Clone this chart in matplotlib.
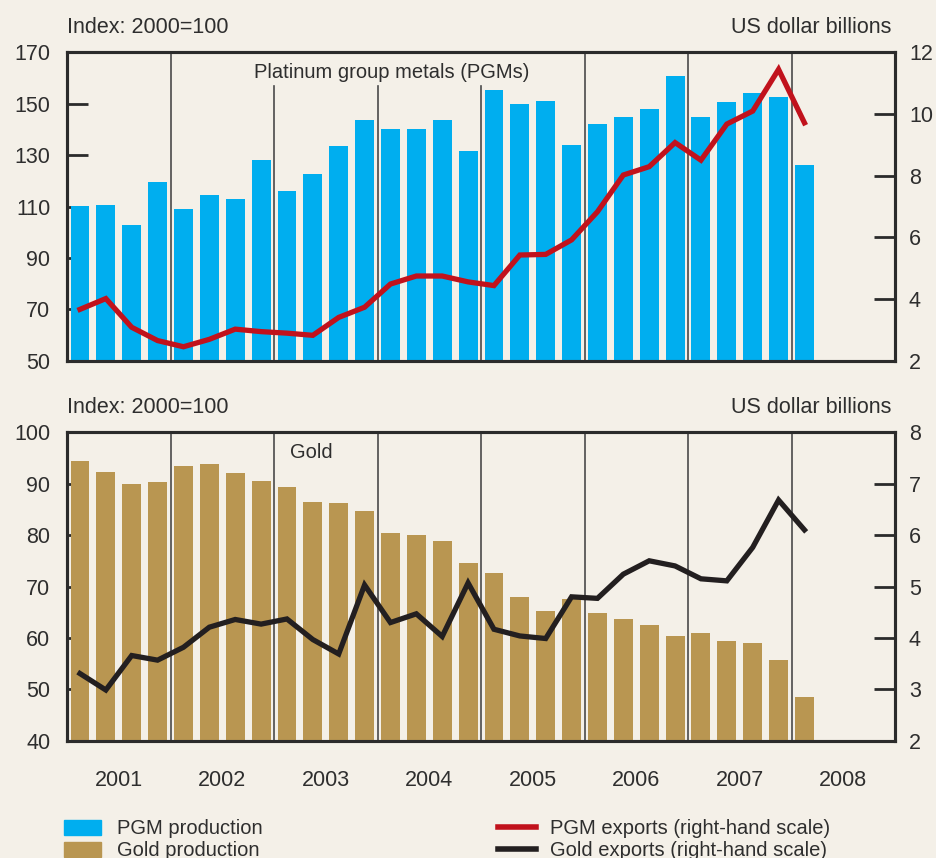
import numpy as np
import matplotlib
matplotlib.use("Agg")
import matplotlib.pyplot as plt
from matplotlib.patches import Patch
from matplotlib.lines import Line2D

plt.rcParams['font.family'] = ['Liberation Sans', 'DejaVu Sans']

# quarterly data, 2001Q1 .. 2008Q1
pgm_prod = [110.2, 110.6, 102.8, 119.5, 109.0, 114.5, 112.9, 128.1,
            116.0, 122.6, 133.5, 143.6, 140.1, 140.1, 143.6, 131.6,
            155.2, 149.8, 151.0, 133.9, 142.0, 144.8, 147.9, 160.7,
            144.8, 150.6, 154.1, 152.5, 126.1]
pgm_exports = [3.67, 4.02, 3.09, 2.66, 2.46, 2.70, 3.03, 2.95,
               2.90, 2.83, 3.41, 3.74, 4.49, 4.75, 4.75, 4.56,
               4.44, 5.43, 5.45, 5.92, 6.83, 8.02, 8.29, 9.07,
               8.50, 9.67, 10.09, 11.44, 9.71]
gold_prod = [94.4, 92.2, 89.9, 90.3, 93.4, 93.8, 92.0, 90.5,
             89.3, 86.4, 86.2, 84.7, 80.4, 80.0, 78.8, 74.6,
             72.6, 68.0, 65.2, 67.6, 64.9, 63.7, 62.5, 60.4,
             61.0, 59.4, 59.0, 55.7, 48.5]
gold_exports = [3.31, 2.99, 3.66, 3.57, 3.82, 4.21, 4.36, 4.27,
                4.37, 3.97, 3.69, 5.03, 4.30, 4.47, 4.03, 5.07,
                4.17, 4.04, 3.99, 4.80, 4.77, 5.24, 5.50, 5.40,
                5.15, 5.11, 5.76, 6.68, 6.10]
years = ['2001', '2002', '2003', '2004', '2005', '2006', '2007', '2008']

bg = '#f4f0e8'
blue = '#00aeef'
gold = '#b99651'
red = '#c1121c'
black = '#231f20'
txt = '#2e2e2e'
fs = 15.5

x = np.arange(len(pgm_prod)) + 0.5

fig = plt.figure(figsize=(9.36, 8.58), dpi=100, facecolor=bg)
ax1 = fig.add_axes([0.0716, 0.5793, 0.8846, 0.360])
ax2 = fig.add_axes([0.0716, 0.1364, 0.8846, 0.360])


def setup(ax, ylim, yticks, rlim, rticks, bars, bcol, line, lcol, label, label_x, partial):
    ax.set_facecolor(bg)
    ax.bar(x, bars, width=0.73, color=bcol, zorder=2)
    ax.set_xlim(0, 32)
    ax.set_ylim(*ylim)
    ax.set_yticks(yticks)
    for q in range(4, 32, 4):
        top = 0.89 if q in partial else 1
        ax.axvline(q, ymax=top, color='#4a4a4a', lw=1.2, zorder=3)
    ax.tick_params(axis='y', direction='in', length=15, width=2, pad=12,
                   labelsize=fs, colors=txt, color='#2b2b2b')
    for s in ax.spines.values():
        s.set_linewidth(2.2)
        s.set_color('#2b2b2b')
    ax.text(0, 1.081, 'Index: 2000=100', transform=ax.transAxes, fontsize=fs,
            color=txt, va='center', ha='left')
    ax.text(0.996, 1.081, 'US dollar billions', transform=ax.transAxes, fontsize=fs,
            color=txt, va='center', ha='right')
    ax.text(label_x, 0.935, label, transform=ax.transAxes, fontsize=fs - 1,
            color=txt, va='center', ha='center')

    tw = ax.twinx()
    tw.plot(x, line, color=lcol, lw=3.8, solid_joinstyle='miter', zorder=4)
    tw.set_ylim(*rlim)
    tw.set_yticks(rticks)
    tw.tick_params(axis='y', direction='in', length=15, width=2, pad=10,
                   labelsize=fs, colors=txt, color='#2b2b2b')
    for s in tw.spines.values():
        s.set_linewidth(2.2)
        s.set_color('#2b2b2b')
    return tw


t1 = setup(ax1, (50, 170), np.arange(50, 171, 20), (2, 12), np.arange(2, 13, 2),
           pgm_prod, blue, pgm_exports, red, 'Platinum group metals (PGMs)', 0.392, (8, 12, 16))
t2 = setup(ax2, (40, 100), np.arange(40, 101, 10), (2, 8), np.arange(2, 9, 1),
           gold_prod, gold, gold_exports, black, 'Gold', 0.295, ())

for a in (ax1, t1):
    a.set_xticks([])
ax2.set_xticks(np.arange(2, 32, 4))
ax2.set_xticklabels(years)
ax2.tick_params(axis='x', length=0, pad=21, labelsize=fs, colors=txt)
t2.tick_params(axis='x', length=0)

h_left = [Patch(color=blue), Patch(color=gold)]
fig.legend(h_left, ['PGM production', 'Gold production'], loc='upper left',
           bbox_to_anchor=(0.058, 0.057), frameon=False, fontsize=fs - 1,
           handlelength=1.8, handleheight=0.75, handletextpad=0.8,
           labelspacing=0.15, borderpad=0, labelcolor=txt)
h_right = [Line2D([], [], color=red, lw=4), Line2D([], [], color=black, lw=4)]
fig.legend(h_right, ['PGM exports (right-hand scale)', 'Gold exports (right-hand scale)'],
           loc='upper left', bbox_to_anchor=(0.521, 0.057), frameon=False,
           fontsize=fs - 1, handlelength=1.9, handletextpad=0.7,
           labelspacing=0.15, borderpad=0, labelcolor=txt)

fig.savefig('out.png', dpi=100, facecolor=bg)
